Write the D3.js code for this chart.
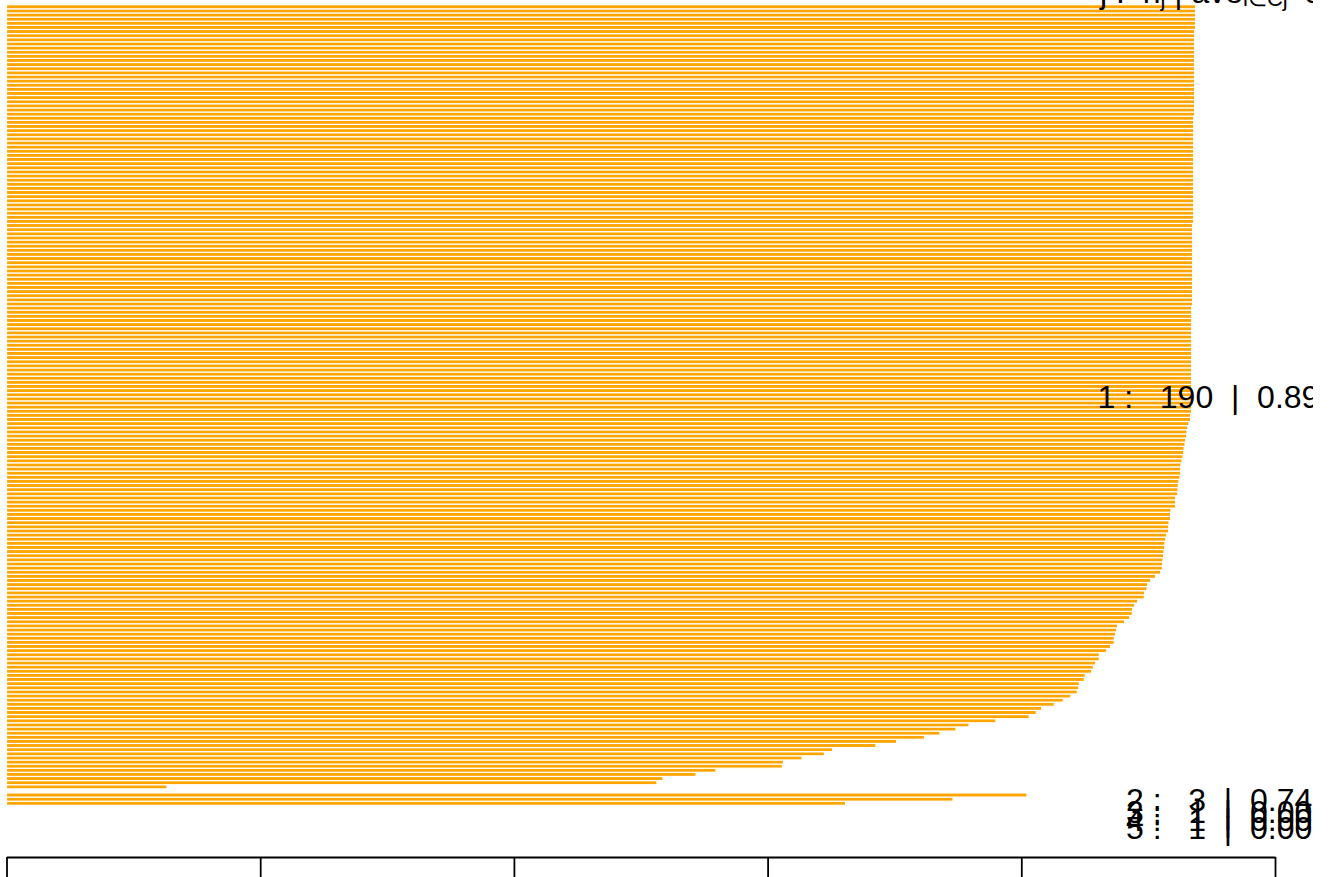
<!DOCTYPE html>
<html>
<head>
<meta charset="utf-8">
<script src="https://cdn.jsdelivr.net/npm/d3@7/dist/d3.min.js"></script>
<style>
  html, body { margin: 0; padding: 0; background: #ffffff; }
  svg { display: block; }
  text { font-family: "Liberation Sans", Arial, sans-serif; white-space: pre; }
</style>
</head>
<body>
<div id="chart"></div>
<script>
// Silhouette widths per cluster, listed from the top bar of each cluster down
const clusterIds = [1, 2, 3, 4, 5];

const cluster1Widths = [
  0.9375, 0.9375, 0.9375, 0.9375, 0.9375, 0.9375,
  0.9367, 0.9367, 0.9367, 0.9367, 0.9367, 0.9367, 0.9367, 0.9367, 0.9367, 0.9367,
  0.9367, 0.9367, 0.9367, 0.9367, 0.9367, 0.9367, 0.9367, 0.9367, 0.9367, 0.9367, 0.9367,
  0.9359, 0.9359, 0.9359, 0.9359, 0.9359, 0.9359, 0.9359, 0.9359, 0.9359, 0.9359,
  0.9359, 0.9359, 0.9359, 0.9359, 0.9359, 0.9359, 0.9359, 0.9359, 0.9359, 0.9359,
  0.9359, 0.9359, 0.9359, 0.9359, 0.9359, 0.9359,
  0.9351, 0.9351, 0.9351, 0.9351, 0.9351, 0.9351, 0.9351, 0.9351, 0.9351, 0.9351,
  0.9351, 0.9351, 0.9351, 0.9351, 0.9351, 0.9351, 0.9351, 0.9351, 0.9351, 0.9351,
  0.9343, 0.9343, 0.9343, 0.9343, 0.9343, 0.9343, 0.9343, 0.9343, 0.9343, 0.9343,
  0.9343, 0.9343, 0.9343, 0.9343, 0.9343, 0.9343, 0.9343, 0.9343, 0.9343, 0.9343,
  0.9343, 0.9343, 0.9343, 0.9343, 0.9343, 0.9343,
  0.9335, 0.9335, 0.9322, 0.9312, 0.9306, 0.9304, 0.9296, 0.9291, 0.9283, 0.9280,
  0.9275, 0.9267, 0.9259, 0.9257, 0.9257, 0.9251, 0.9243, 0.9238, 0.9236, 0.9233,
  0.9217, 0.9217, 0.9217, 0.9180, 0.9178, 0.9178, 0.9165, 0.9162, 0.9162, 0.9147,
  0.9139, 0.9133, 0.9131, 0.9125, 0.9123, 0.9117, 0.9115, 0.9112, 0.9099, 0.9059,
  0.9020, 0.8996, 0.8991, 0.8973, 0.8970, 0.8918, 0.8894, 0.8878, 0.8875, 0.8855,
  0.8815, 0.8760, 0.8752, 0.8744, 0.8733, 0.8733, 0.8705, 0.8673, 0.8615, 0.8615,
  0.8587, 0.8568, 0.8555, 0.8505, 0.8497, 0.8457, 0.8452, 0.8441, 0.8389, 0.8331,
  0.8260, 0.8161, 0.8118, 0.8063, 0.7800, 0.7588, 0.7485, 0.7359, 0.7237, 0.7017,
  0.6854, 0.6512, 0.6448, 0.6271, 0.6125, 0.6117, 0.5593, 0.5436, 0.5175, 0.5128,
  0.1265
];
const cluster2Widths = [0.8045, 0.7462, 0.6615];
const cluster3Widths = [0];
const cluster4Widths = [0];
const cluster5Widths = [0];

const clusterWidths = [cluster1Widths, cluster2Widths, cluster3Widths, cluster4Widths, cluster5Widths];
const axisTicks = [0, 0.2, 0.4, 0.6, 0.8, 1.0];

const W = 1332, H = 877;
const barColor = "#FFA500";

// Stack the bars bottom-up: last cluster first, one bar width of space between clusters
const bars = [];
const clusterStats = [];
let u = 0;
for (let c = clusterIds.length - 1; c >= 0; c--) {
  const vals = clusterWidths[c].slice().sort(d3.ascending);
  const start = u;
  vals.forEach(v => { bars.push({ cluster: clusterIds[c], s: v, u: u }); u += 1; });
  clusterStats.push({
    cluster: clusterIds[c],
    n: vals.length,
    ave: d3.mean(vals),
    mid: (start + u) / 2
  });
  u += 1;
}
const totalUnits = u - 1;

const x = d3.scaleLinear().domain([0, 1]).range([6.5, 1275]);
const y = d3.scaleLinear().domain([0, totalUnits]).range([830.1, 4.7]);

const svg = d3.select("#chart").append("svg")
  .attr("width", W).attr("height", H)
  .attr("viewBox", `0 0 ${W} ${H}`);

svg.append("rect").attr("width", W).attr("height", H).attr("fill", "#ffffff");

svg.append("defs").append("clipPath").attr("id", "textClip")
  .append("rect").attr("x", 0).attr("y", 0).attr("width", 1313).attr("height", H);

// Bars: orange fill with a white border, so neighbours read as separate stripes
svg.append("g").attr("class", "bars")
  .selectAll("rect")
  .data(bars)
  .join("rect")
  .attr("x", x(0))
  .attr("y", d => y(d.u + 1))
  .attr("width", d => Math.max(0, x(d.s) - x(0)))
  .attr("height", d => y(d.u) - y(d.u + 1))
  .attr("fill", barColor)
  .attr("stroke", "#ffffff")
  .attr("stroke-width", 1.2);

// Bottom axis
const axis = d3.axisBottom(x)
  .tickValues(axisTicks)
  .tickSize(22)
  .tickSizeOuter(0)
  .tickFormat(() => "");
const gAxis = svg.append("g").attr("transform", "translate(0,857)").call(axis);
gAxis.select(".domain").attr("stroke", "#000").attr("stroke-width", 1.8);
gAxis.selectAll(".tick line").attr("stroke", "#000").attr("stroke-width", 1.8);

const textLayer = svg.append("g").attr("clip-path", "url(#textClip)");

// Per-cluster summary: j : n_j | average width
const fmt = d3.format(".2f");
const fontSize = 32;
clusterStats.forEach(st => {
  const t = textLayer.append("text")
    .attr("font-size", fontSize)
    .attr("fill", "#000")
    .text(`${st.cluster} :   ${st.n}  |  ${fmt(st.ave)}`);
  const len = t.node().getComputedTextLength();
  t.attr("x", x(1) - 0.8 * len)
   .attr("y", y(st.mid) + fontSize * 0.716 / 2);
});

// Column header
const header = textLayer.append("text")
  .attr("x", 1100).attr("y", 3)
  .attr("font-size", fontSize).attr("fill", "#000");
header.append("tspan").text("j :  n");
header.append("tspan").attr("font-size", 22).attr("dy", 3).text("j");
header.append("tspan").attr("dy", -3).text(" | ave");
header.append("tspan").attr("font-size", 22).attr("dy", 3).text("i\u2208Cj");
header.append("tspan").attr("dy", -3).text("  s");
header.append("tspan").attr("font-size", 22).attr("dy", 3).text("i");
</script>
</body>
</html>
